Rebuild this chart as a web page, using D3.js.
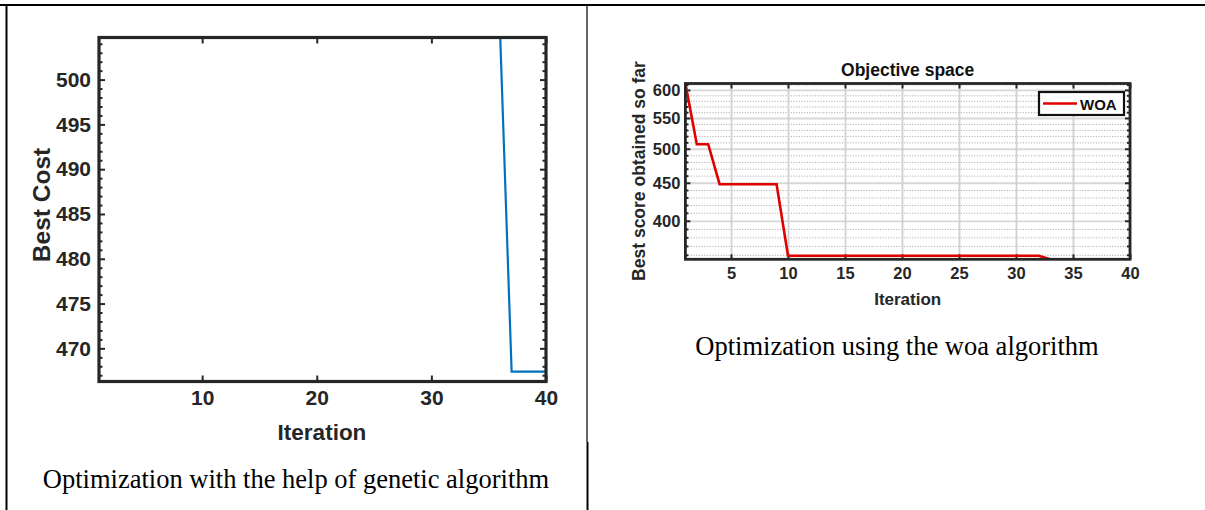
<!DOCTYPE html>
<html><head><meta charset="utf-8">
<script src="https://cdn.jsdelivr.net/npm/d3@7"></script>
<style>
body{margin:0;background:#fff}
svg text{font-family:Arial,"Liberation Sans",sans-serif}
svg text.cap{font-family:"Liberation Serif","Times New Roman",serif}
</style></head>
<body><svg id="c" width="1205" height="510"></svg>
<script>
// ---- data ----
const gaIter = [36, 37, 38, 39, 40];
const gaCost = [505, 467.4, 467.4, 467.4, 467.4];
const gaXTicks = [10, 20, 30, 40];
const gaYTicks = [470, 475, 480, 485, 490, 495, 500];
const gaYMinor = [467,468,469,471,472,473,474,476,477,478,479,481,482,483,484,486,487,488,489,491,492,493,494,496,497,498,499,501,502,503,504];

const woaIter = [1,2,3,4,5,6,7,8,9,10,11,12,13,14,15,16,17,18,19,20,21,22,23,24,25,26,27,28,29,30,31,32,33,34,35,36,37,38,39,40];
const woaScore = [612,507,507,448,448,448,448,448,448,359,359,359,359,359,359,359,359,359,359,359,359,359,359,359,359,359,359,359,359,359,359,359,355,355,355,355,355,355,355,355];
const woaXTicks = [5,10,15,20,25,30,35,40];
const woaYTicks = [400,450,500,550,600];
const woaYMinor = [360,370,380,390,410,420,430,440,460,470,480,490,510,520,530,540,560,570,580,590,610];

const captions = ["Optimization with the help of genetic algorithm", "Optimization using the woa algorithm"];

const svg = d3.select("#c");
const AX = "#262626";

// ---- page table borders ----
svg.append("line").attr("x1",0).attr("x2",1205).attr("y1",5).attr("y2",5).attr("stroke","#000").attr("stroke-width",2);
svg.append("line").attr("x1",6.5).attr("x2",6.5).attr("y1",4).attr("y2",510).attr("stroke","#000").attr("stroke-width",2);
svg.append("line").attr("x1",587).attr("x2",587).attr("y1",4).attr("y2",442).attr("stroke","#000").attr("stroke-width",1.2);
svg.append("line").attr("x1",587.5).attr("x2",587.5).attr("y1",442).attr("y2",510).attr("stroke","#000").attr("stroke-width",2);

function styleAxis(g, fs){
  g.select(".domain").remove();
  g.selectAll(".tick line").attr("stroke",AX).attr("stroke-width",2);
  g.selectAll(".tick text").attr("fill",AX).attr("font-weight","bold").attr("font-size",fs);
}

// ================= Left chart (GA) =================
{
  const L=99, R=546, T=37.5, B=381.5;
  const x = d3.scaleLinear().domain([1,40]).range([L,R]);
  const y = d3.scaleLinear().domain([466.3,504.7]).range([B,T]);
  const g = svg.append("g");
  g.append("clipPath").attr("id","clipGA").append("rect").attr("x",L).attr("y",T).attr("width",R-L).attr("height",B-T);

  const fs = 21;
  const bx = g.append("g").attr("transform",`translate(0,${B})`)
    .call(d3.axisBottom(x).tickValues(gaXTicks).tickFormat(d3.format("d")).tickSizeInner(-6).tickSizeOuter(0).tickPadding(9));
  styleAxis(bx, fs);
  const tx = g.append("g").attr("transform",`translate(0,${T})`)
    .call(d3.axisTop(x).tickValues(gaXTicks).tickFormat("").tickSizeInner(-6).tickSizeOuter(0));
  styleAxis(tx, fs);
  const ly = g.append("g").attr("transform",`translate(${L},0)`)
    .call(d3.axisLeft(y).tickValues(gaYTicks).tickFormat(d3.format("d")).tickSizeInner(-6).tickSizeOuter(0).tickPadding(8));
  styleAxis(ly, fs);
  const lym = g.append("g").attr("transform",`translate(${L},0)`)
    .call(d3.axisLeft(y).tickValues(gaYMinor).tickFormat("").tickSizeInner(-3.5).tickSizeOuter(0));
  styleAxis(lym, fs);
  const ry = g.append("g").attr("transform",`translate(${R},0)`)
    .call(d3.axisRight(y).tickValues(gaYTicks).tickFormat("").tickSizeInner(-6).tickSizeOuter(0));
  styleAxis(ry, fs);
  const rym = g.append("g").attr("transform",`translate(${R},0)`)
    .call(d3.axisRight(y).tickValues(gaYMinor).tickFormat("").tickSizeInner(-3.5).tickSizeOuter(0));
  styleAxis(rym, fs);

  const line = d3.line().x((d,i)=>x(gaIter[i])).y((d)=>y(d));
  g.append("path").datum(gaCost).attr("clip-path","url(#clipGA)")
    .attr("d",line).attr("fill","none").attr("stroke","#0072BD").attr("stroke-width",2.2);

  g.append("rect").attr("x",L).attr("y",T).attr("width",R-L).attr("height",B-T)
    .attr("fill","none").attr("stroke",AX).attr("stroke-width",3.2);

  g.append("text").attr("x",322).attr("y",440).attr("text-anchor","middle")
    .attr("font-weight","bold").attr("font-size",22.5).attr("fill",AX).text("Iteration");
  g.append("text").attr("transform",`translate(50,205) rotate(-90)`).attr("text-anchor","middle")
    .attr("font-weight","bold").attr("font-size",24.5).attr("fill",AX).text("Best Cost");

  g.append("text").attr("class","cap").attr("x",296).attr("y",488).attr("text-anchor","middle")
    .attr("font-size",26.5).attr("fill","#000")
    .text(captions[0]);
}

// ================= Right chart (WOA) =================
{
  const L=685.4, R=1130, T=83.5, B=259.3;
  const x = d3.scaleLinear().domain([1,40]).range([L,R]);
  const y = d3.scaleLog().domain([355,612]).range([B,T]);
  const g = svg.append("g");
  g.append("clipPath").attr("id","clipW").append("rect").attr("x",L).attr("y",T).attr("width",R-L).attr("height",B-T);

  // minor horizontal grid (dotted)
  const gm = g.append("g").attr("transform",`translate(${L},0)`)
    .call(d3.axisLeft(y).tickValues(woaYMinor).tickFormat("").tickSizeInner(-(R-L)).tickSizeOuter(0));
  gm.select(".domain").remove();
  gm.selectAll(".tick line").attr("stroke","#b0b0b0").attr("stroke-width",1).attr("stroke-dasharray","1.2,1.5");
  // major grid
  const gM = g.append("g").attr("transform",`translate(${L},0)`)
    .call(d3.axisLeft(y).tickValues(woaYTicks).tickFormat("").tickSizeInner(-(R-L)).tickSizeOuter(0));
  gM.select(".domain").remove();
  gM.selectAll(".tick line").attr("stroke","#d8d8d8").attr("stroke-width",1.8);
  const gV = g.append("g").attr("transform",`translate(0,${B})`)
    .call(d3.axisBottom(x).tickValues(woaXTicks).tickFormat("").tickSizeInner(-(B-T)).tickSizeOuter(0));
  gV.select(".domain").remove();
  gV.selectAll(".tick line").attr("stroke","#d0d0d0").attr("stroke-width",1.8);

  const fs = 16.5;
  const bx = g.append("g").attr("transform",`translate(0,${B})`)
    .call(d3.axisBottom(x).tickValues(woaXTicks).tickFormat(d3.format("d")).tickSizeInner(-5).tickSizeOuter(0).tickPadding(8));
  styleAxis(bx, fs);
  const tx = g.append("g").attr("transform",`translate(0,${T})`)
    .call(d3.axisTop(x).tickValues(woaXTicks).tickFormat("").tickSizeInner(-5).tickSizeOuter(0));
  styleAxis(tx, fs);
  const ly = g.append("g").attr("transform",`translate(${L},0)`)
    .call(d3.axisLeft(y).tickValues(woaYTicks).tickFormat(d3.format("d")).tickSizeInner(-5).tickSizeOuter(0).tickPadding(5));
  styleAxis(ly, fs);
  const lym = g.append("g").attr("transform",`translate(${L},0)`)
    .call(d3.axisLeft(y).tickValues(woaYMinor).tickFormat("").tickSizeInner(-3).tickSizeOuter(0));
  styleAxis(lym, fs);
  const ry = g.append("g").attr("transform",`translate(${R},0)`)
    .call(d3.axisRight(y).tickValues(woaYTicks).tickFormat("").tickSizeInner(-5).tickSizeOuter(0));
  styleAxis(ry, fs);
  const rym = g.append("g").attr("transform",`translate(${R},0)`)
    .call(d3.axisRight(y).tickValues(woaYMinor).tickFormat("").tickSizeInner(-3).tickSizeOuter(0));
  styleAxis(rym, fs);

  const line = d3.line().x((d,i)=>x(woaIter[i])).y(d=>y(d));
  g.append("path").datum(woaScore).attr("clip-path","url(#clipW)")
    .attr("d",line).attr("fill","none").attr("stroke","#e00000").attr("stroke-width",2.6);

  g.append("rect").attr("x",L).attr("y",T).attr("width",R-L).attr("height",B-T)
    .attr("fill","none").attr("stroke",AX).attr("stroke-width",2.8);

  // legend
  const lg = g.append("g");
  lg.append("rect").attr("x",1039).attr("y",92).attr("width",85).attr("height",23)
    .attr("fill","#fff").attr("stroke","#111").attr("stroke-width",2.2);
  lg.append("line").attr("x1",1043).attr("x2",1077).attr("y1",103.5).attr("y2",103.5)
    .attr("stroke","#e00000").attr("stroke-width",2.6);
  lg.append("text").attr("x",1080).attr("y",109.5).attr("font-weight","bold").attr("font-size",15)
    .attr("fill","#111").text("WOA");

  g.append("text").attr("x",(L+R)/2).attr("y",76).attr("text-anchor","middle")
    .attr("font-weight","bold").attr("font-size",17.5).attr("fill","#111").text("Objective space");
  g.append("text").attr("x",(L+R)/2).attr("y",305).attr("text-anchor","middle")
    .attr("font-weight","bold").attr("font-size",17).attr("fill",AX).text("Iteration");
  g.append("text").attr("transform",`translate(645,171) rotate(-90)`).attr("text-anchor","middle")
    .attr("font-weight","bold").attr("font-size",17.5).attr("fill",AX).text("Best score obtained so far");

  g.append("text").attr("class","cap").attr("x",897).attr("y",355).attr("text-anchor","middle")
    .attr("font-size",26.5).attr("fill","#000")
    .text(captions[1]);
}
</script></body></html>
